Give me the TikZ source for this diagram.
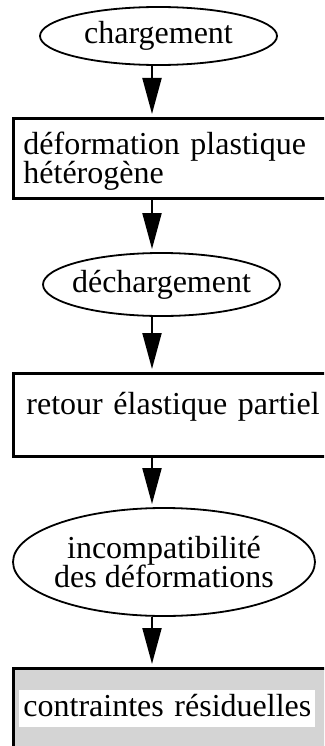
\documentclass[tikz,border=0pt]{standalone}
\usepackage{fontspec}
\setmainfont{Liberation Serif}
\usetikzlibrary{arrows.meta,positioning,shapes.geometric}

\begin{document}
\begin{tikzpicture}[x=1bp, y=-1bp,
    font=\fontsize{32bp}{29.5bp}\selectfont, >={Triangle[length=36bp, width=19bp]},
    etat/.style={draw, ellipse, line width=1.8bp, inner xsep=-6bp, inner ysep=0pt, align=center},
    boite/.style={draw, line width=2.8bp, anchor=north west, text width=318bp, inner xsep=10bp, minimum height=80bp, align=left},
    fleche/.style={->, line width=2bp, shorten >=3bp}]

  \useasboundingbox (0,0) rectangle (324,746);
  \clip (0,0) rectangle (324,746);
  \coordinate (axe) at (152,0);

  % --- Chargement et plasticite ---
  \node[etat, minimum width=237bp, minimum height=58bp] (charg) at (158.5,36) {chargement};
  \node[boite, text height=28bp] (plast) at (12,117) {déformation plastique\\hétérogène};

  % --- Decharge et retour elastique ---
  \node[etat, minimum width=237bp, minimum height=63bp] (decharg) at (161.5,284.5) {déchargement};
  \node[boite, minimum height=83bp, inner xsep=13bp, text height=22bp, text depth=22bp] (retour) at (12,372) {retour élastique partiel};

  % --- Incompatibilite -> contraintes residuelles ---
  \node[etat, minimum width=302bp, minimum height=108bp] (incomp) at (164,562) {incompatibilité\\des déformations};
  \node[boite, fill=black!17, inner xsep=6bp] (resid) at (12,667) {\setlength{\fboxsep}{4bp}\colorbox{white}{\vphantom{p}contraintes résiduelles}};

  \draw[fleche] (charg.south -| axe) -- (plast.north -| axe);
  \draw[fleche] (plast.south -| axe) -- (decharg.north -| axe);
  \draw[fleche] (decharg.south -| axe) -- (retour.north -| axe);
  \draw[fleche] (retour.south -| axe) -- (incomp.north -| axe);
  \draw[fleche] (incomp.south -| axe) -- (resid.north -| axe);
\end{tikzpicture}
\end{document}
